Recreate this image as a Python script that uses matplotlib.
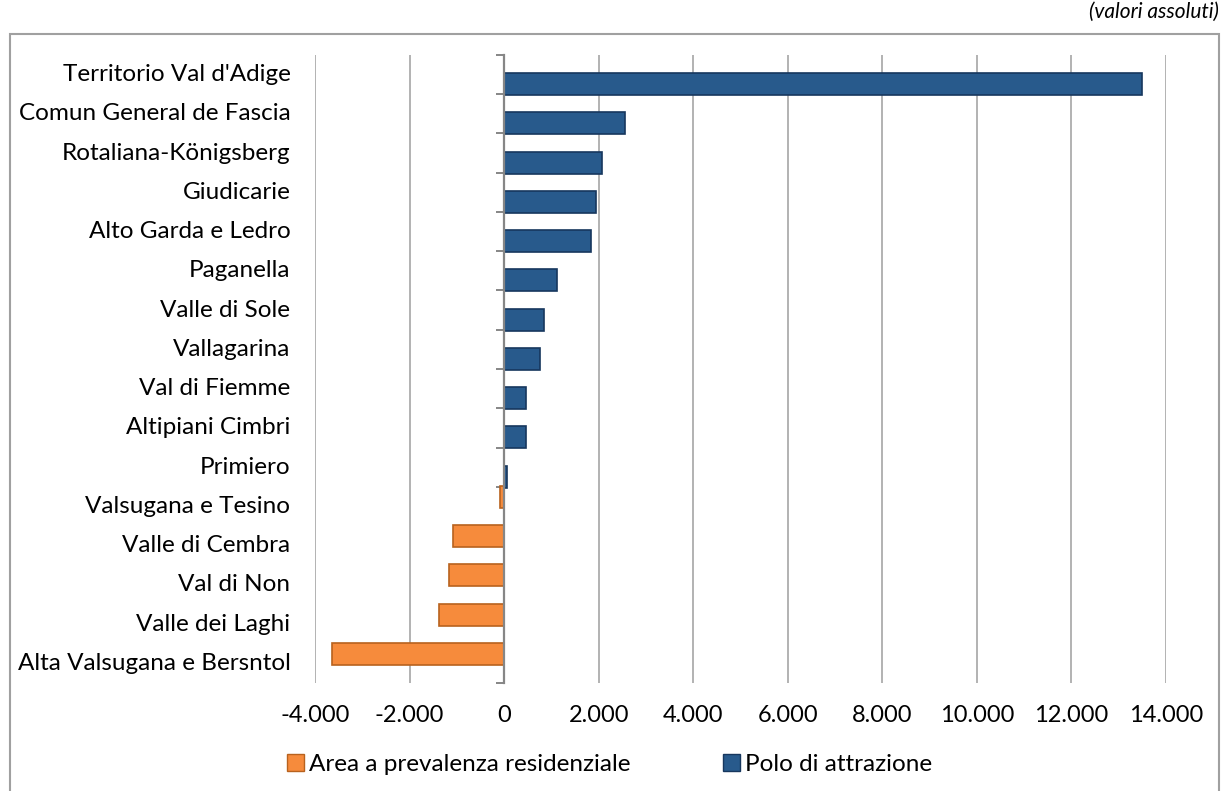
import numpy as np
import matplotlib
matplotlib.use("Agg")
import matplotlib.pyplot as plt
from matplotlib.patches import Patch, Rectangle
from matplotlib.transforms import blended_transform_factory

plt.rcParams['font.family'] = ['Lato', 'DejaVu Sans']

# data (top to bottom)
categories = ["Territorio Val d'Adige", "Comun General de Fascia", "Rotaliana-Königsberg",
              "Giudicarie", "Alto Garda e Ledro", "Paganella", "Valle di Sole", "Vallagarina",
              "Val di Fiemme", "Altipiani Cimbri", "Primiero", "Valsugana e Tesino",
              "Valle di Cembra", "Val di Non", "Valle dei Laghi", "Alta Valsugana e Bersntol"]
values = [13500, 2560, 2070, 1950, 1840, 1120, 850, 760, 470, 460, 60, -85,
          -1080, -1160, -1380, -3640]
xticks = [-4000, -2000, 0, 2000, 4000, 6000, 8000, 10000, 12000, 14000]
xtick_labels = ["-4.000", "-2.000", "0", "2.000", "4.000", "6.000", "8.000",
                "10.000", "12.000", "14.000"]

blue, blue_edge = "#285a8c", "#17375e"
orange, orange_edge = "#f68b3c", "#b8621e"

fig = plt.figure(figsize=(12.24, 7.91), dpi=100)
ax = fig.add_axes([0.2574, 0.1365, 0.6952, 0.794])

y = np.arange(len(categories))[::-1]
vals = np.array(values)
pos = vals > 0
# two series: residential areas sit in the upper half, attraction poles in the lower half
ax.barh(y[~pos] + 0.24, vals[~pos], height=0.56, color=orange, edgecolor=orange_edge,
        linewidth=1.2, zorder=3)
ax.barh(y[pos] - 0.24, vals[pos], height=0.56, color=blue, edgecolor=blue_edge,
        linewidth=1.2, zorder=3)

ax.set_xlim(-4000, 14000)
ax.set_ylim(-0.5, len(categories) - 0.5)
ax.set_xticks(xticks)
ax.set_xticklabels(xtick_labels, fontsize=17)
ax.tick_params(axis='x', length=0, pad=16)
ax.grid(axis='x', color='#a6a6a6', linewidth=1.2, zorder=0)

# category axis sits on zero
ax.spines['left'].set_position(('data', 0))
ax.spines['left'].set_color('#868686')
ax.spines['left'].set_linewidth(1.6)
ax.spines['left'].set_zorder(4)
for s in ['top', 'right', 'bottom']:
    ax.spines[s].set_visible(False)
ax.set_yticks(np.arange(-0.5, len(categories), 1.0))
ax.set_yticklabels([])
ax.tick_params(axis='y', length=6, width=1.4, color='#868686', direction='out')

tr = blended_transform_factory(ax.transAxes, ax.transData)
for yy, name in zip(y, categories):
    ax.text(-0.029, yy, name, transform=tr, ha='right', va='center', fontsize=17.5)

handles = [Patch(facecolor=orange, edgecolor=orange_edge, label='Area a prevalenza residenziale'),
           Patch(facecolor=blue, edgecolor=blue_edge, label='Polo di attrazione')]
fig.legend(handles=handles, loc='center', bbox_to_anchor=(0.498, 0.033), ncol=2, frameon=False,
           fontsize=17.5, handlelength=0.7, handleheight=0.7, handletextpad=0.2, columnspacing=3.8)

# outer chart border
fig.patches.append(Rectangle((10 / 1224, -0.01), 1209 / 1224, 1 - 34 / 791 + 0.01,
                             transform=fig.transFigure, fill=False, edgecolor='#a0a0a0',
                             linewidth=1.5, clip_on=False))
fig.text(0.996, 0.985, '(valori assoluti)', ha='right', va='center', fontsize=15, style='italic')

fig.savefig('out.png', dpi=100)
